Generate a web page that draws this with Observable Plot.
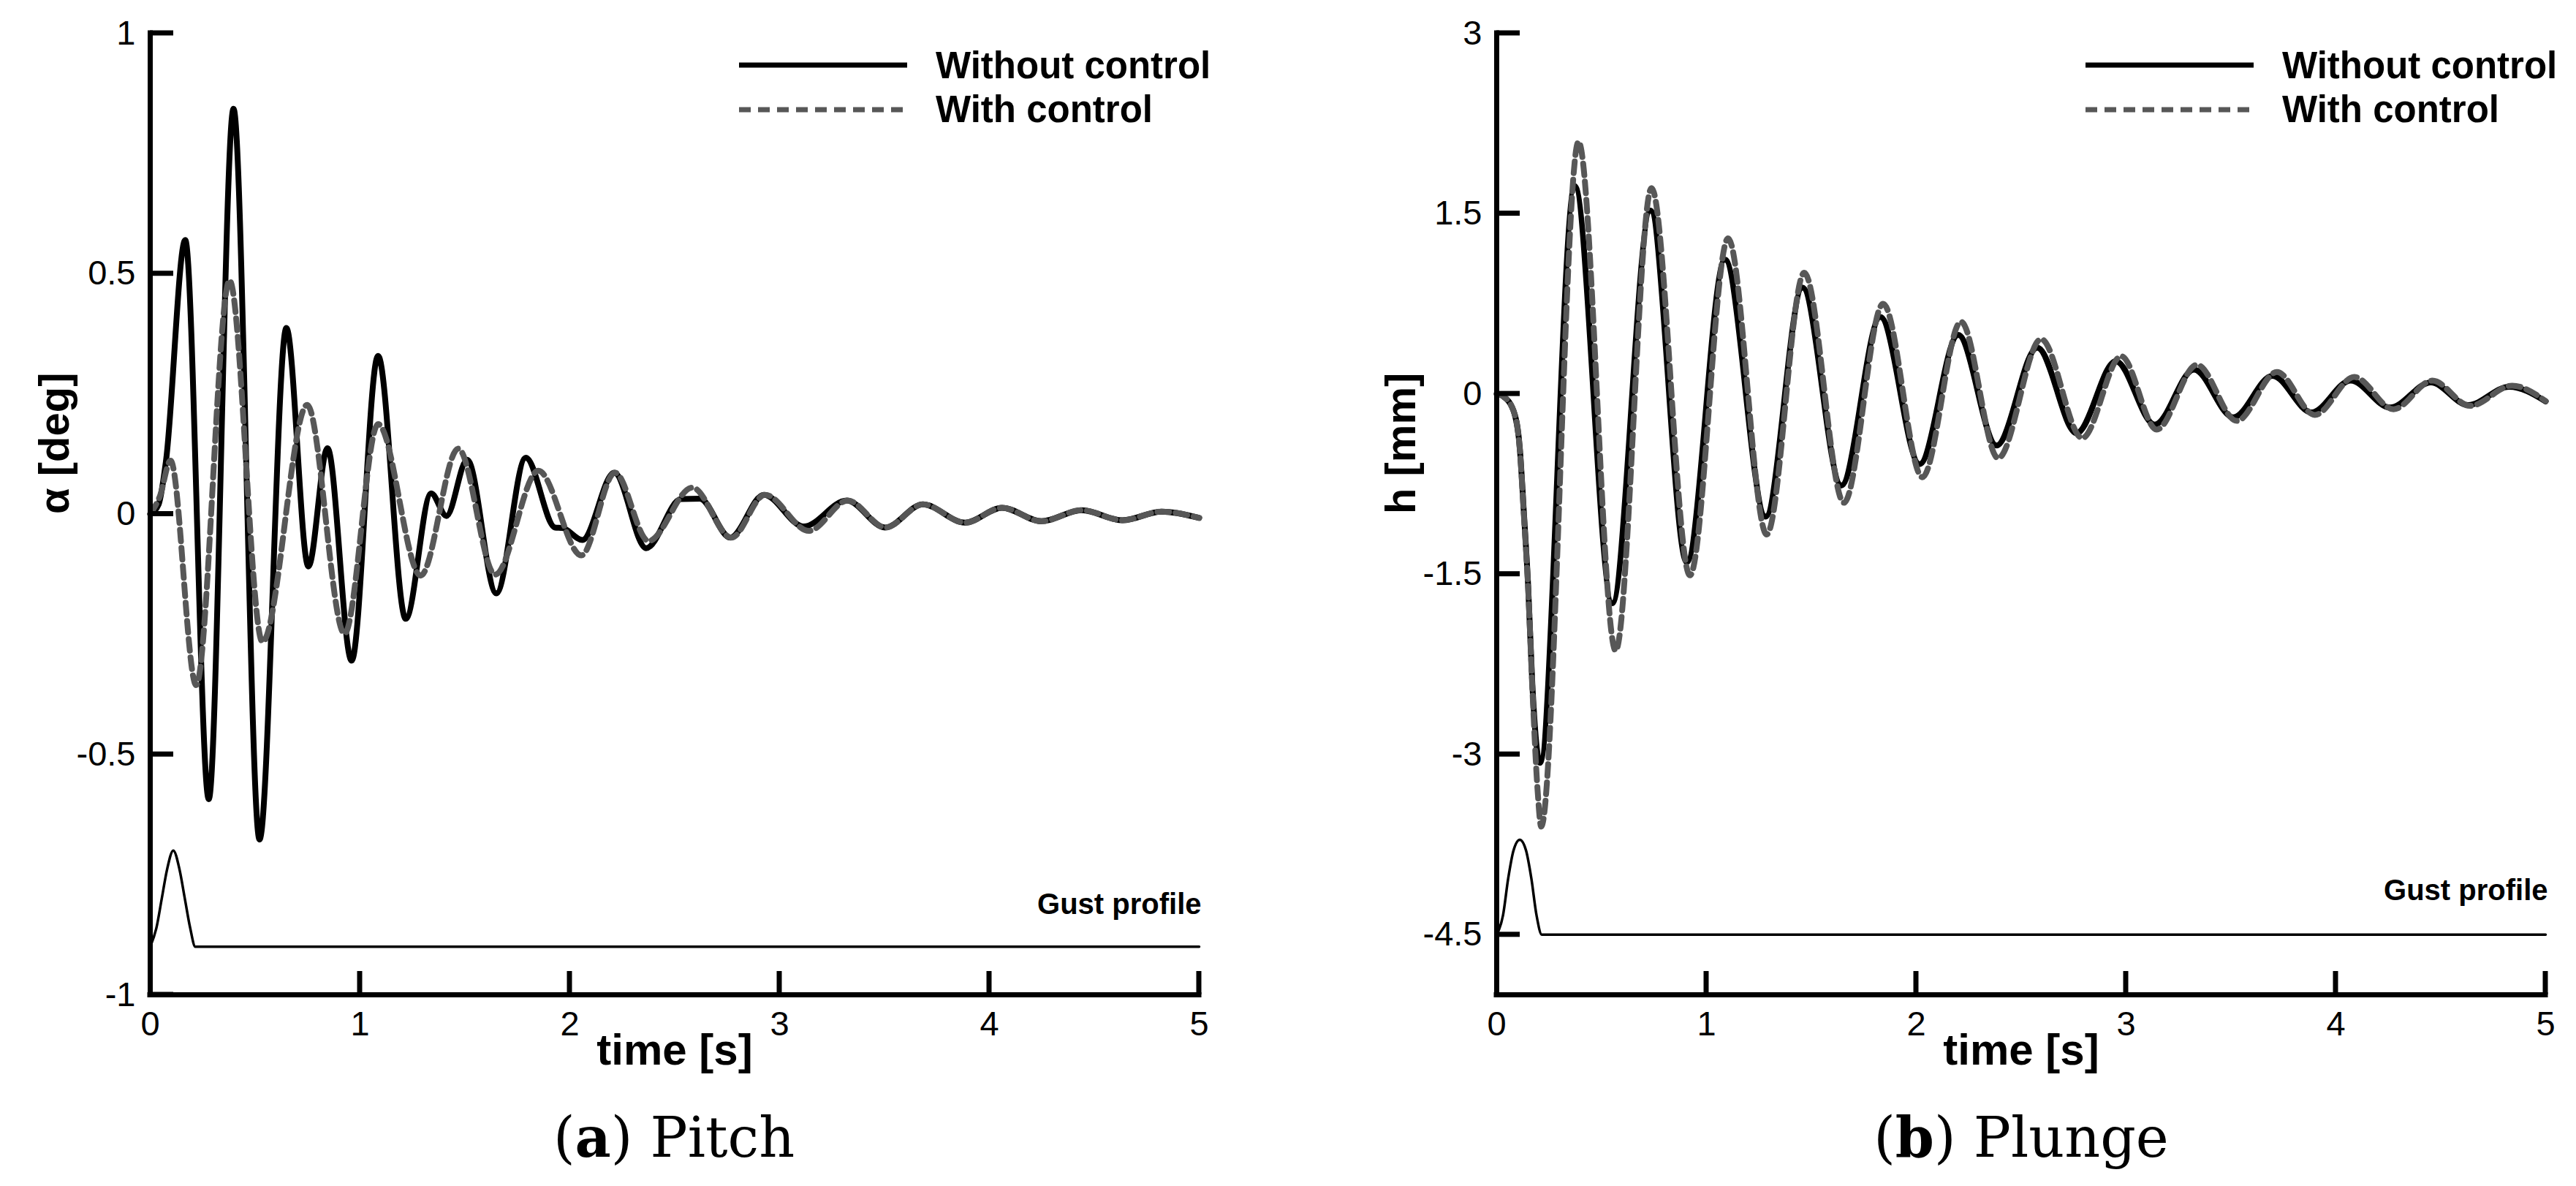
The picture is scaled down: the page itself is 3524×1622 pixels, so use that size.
<!DOCTYPE html>
<html><head><meta charset="utf-8">
<script src="https://cdn.jsdelivr.net/npm/d3@7"></script>
<script src="https://cdn.jsdelivr.net/npm/@observablehq/plot@0.6"></script>
<style>
html,body{margin:0;padding:0;background:#fff;}
#page{position:relative;width:3524px;height:1622px;overflow:hidden;background:#fff;}
.panel{position:absolute;top:0;}
</style></head><body><div id="page"></div>
<script>
// ---------- (a) Pitch ----------
const pitchNoCtrlT = [0,0.04,0.075,0.167,0.279,0.397,0.521,0.649,0.754,0.845,0.960,1.086,1.218,1.339,1.412,1.511,1.650,1.790,1.930,1.965,2.060,2.212,2.364,2.530,2.620,2.765,2.925,3.115,3.320,3.503,3.683,3.884,4.060,4.248,4.440,4.635,4.820,5.0];
const pitchNoCtrlV = [0,0.02,0.11,0.570,-0.593,0.843,-0.677,0.387,-0.109,0.137,-0.305,0.329,-0.218,0.043,-0.004,0.113,-0.165,0.117,-0.028,-0.029,-0.054,0.086,-0.071,0.031,0.032,-0.049,0.040,-0.026,0.028,-0.028,0.020,-0.018,0.013,-0.015,0.008,-0.013,0.005,-0.008];
const pitchCtrlT = [0,0.046,0.097,0.219,0.378,0.535,0.748,0.926,1.086,1.289,1.468,1.644,1.850,2.055,2.215,2.375,2.584,2.770,2.930,3.140,3.325,3.505,3.683,3.884,4.060,4.248,4.440,4.635,4.820,5.0];
const pitchCtrlV = [0,0.037,0.111,-0.356,0.486,-0.266,0.227,-0.249,0.187,-0.128,0.136,-0.126,0.090,-0.086,0.086,-0.056,0.055,-0.049,0.040,-0.035,0.028,-0.028,0.020,-0.018,0.013,-0.015,0.008,-0.013,0.005,-0.008];
const pitchGustT = [0,0.03,0.055,0.08,0.11,0.14,0.165,0.19,0.215,5.0];
const pitchGustV = [-0.9,-0.86,-0.80,-0.74,-0.70,-0.74,-0.80,-0.86,-0.90,-0.90];
const pitchYDomain = [-1, 1];
const pitchYTicks = [1, 0.5, 0, -0.5, -1];
const pitchGustLabelY = [-0.832];

// ---------- (b) Plunge ----------
const plungeNoCtrlT = [0,0.03,0.08,0.11,0.13,0.15,0.17,0.206,0.372,0.551,0.733,0.906,1.088,1.282,1.458,1.643,1.829,2.016,2.200,2.383,2.577,2.764,2.951,3.137,3.324,3.511,3.698,3.884,4.071,4.258,4.453,4.631,4.826,5.0];
const plungeNoCtrlV = [0,-0.02,-0.14,-0.45,-1.0,-1.6,-2.42,-3.07,1.729,-1.742,1.524,-1.40,1.117,-1.021,0.885,-0.762,0.640,-0.585,0.490,-0.430,0.384,-0.327,0.272,-0.256,0.201,-0.195,0.150,-0.154,0.110,-0.114,0.095,-0.093,0.059,-0.063];
const plungeCtrlT = [0,0.03,0.08,0.11,0.13,0.15,0.17,0.195,0.212,0.390,0.567,0.738,0.921,1.103,1.287,1.466,1.655,1.842,2.029,2.213,2.390,2.595,2.791,2.977,3.146,3.338,3.528,3.719,3.900,4.088,4.275,4.460,4.640,4.840,5.0];
const plungeCtrlV = [0,-0.02,-0.14,-0.46,-1.02,-1.62,-2.45,-3.30,-3.60,2.098,-2.137,1.712,-1.51,1.293,-1.17,1.007,-0.906,0.749,-0.694,0.600,-0.535,0.455,-0.368,0.313,-0.297,0.242,-0.225,0.181,-0.175,0.140,-0.128,0.110,-0.100,0.068,-0.060];
const plungeGustT = [0,0.03,0.055,0.08,0.11,0.14,0.165,0.19,0.215,5.0];
const plungeGustV = [-4.5,-4.34,-4.03,-3.80,-3.71,-3.80,-4.03,-4.34,-4.5,-4.5];
const plungeYDomain = [-5, 3];
const plungeYTicks = [3, 1.5, 0, -1.5, -3, -4.5];
const plungeGustLabelY = [-4.21];

const xDomain = [0, 5];
const xTicksInner = [1, 2, 3, 4, 5];
const xTickLabels = [0, 1, 2, 3, 4, 5];
const seriesNames = ["Without control", "With control"];
const captions = [["a", " Pitch"], ["b", " Plunge"]];
const yLabels = ["α [deg]", "h [mm]"];
const xLabel = "time [s]";
const gustLabel = "Gust profile";

const zip = (T, V) => T.map((t, i) => ({t, v: V[i]}));
const FONT = "'Liberation Sans', Arial, Helvetica, sans-serif";
const H = 1500, MT = 45, MB = 140, TICK = 32, LW = 8;

function panel({solid, dashed, gust, yDomain, yTicks, yLabel, gustY, width, marginLeft, marginRight}) {
  return Plot.plot({
    width, height: H,
    marginLeft, marginRight, marginTop: MT, marginBottom: MB,
    x: {domain: xDomain, label: null},
    y: {domain: yDomain, label: null},
    style: {fontFamily: FONT, fontSize: "47px", color: "#000", background: "transparent", overflow: "visible"},
    marks: [
      Plot.line(gust, {x: "t", y: "v", curve: "monotone-x", stroke: "#000", strokeWidth: 3.5}),
      Plot.line(solid, {x: "t", y: "v", curve: "monotone-x", stroke: "#000", strokeWidth: LW}),
      Plot.line(dashed, {x: "t", y: "v", curve: "monotone-x", stroke: "#575757", strokeWidth: LW, strokeDasharray: "16,9"}),
      Plot.ruleX([xDomain[0]], {stroke: "#000", strokeWidth: 7, strokeLinecap: "square"}),
      Plot.ruleY([yDomain[0]], {stroke: "#000", strokeWidth: 7, strokeLinecap: "square"}),
      Plot.axisY(yTicks, {tickSize: 0, tickPadding: 20, tickFormat: d => String(d), label: null, fontSize: 47}),
      Plot.axisX(xTickLabels, {tickSize: 0, tickPadding: 22, tickFormat: d => String(d), label: null, fontSize: 47}),
      Plot.text([yLabel], {text: d => d, frameAnchor: "left", rotate: -90, dx: -130, fontWeight: "bold", fontSize: 58}),
      Plot.text([xLabel], {text: d => d, frameAnchor: "bottom", dy: 95, fontWeight: "bold", fontSize: 60}),
      Plot.text(gustY, {text: () => gustLabel, x: () => xDomain[1], y: d => d, textAnchor: "end", lineAnchor: "bottom", dx: 3, fontWeight: "bold", fontSize: 40})
    ]
  });
}

const page = document.getElementById("page");
const left = panel({
  solid: zip(pitchNoCtrlT, pitchNoCtrlV), dashed: zip(pitchCtrlT, pitchCtrlV), gust: zip(pitchGustT, pitchGustV),
  yDomain: pitchYDomain, yTicks: pitchYTicks, yLabel: yLabels[0], gustY: pitchGustLabelY,
  width: 1780, marginLeft: 205, marginRight: 140
});
left.classList.add("panel"); left.style.left = "0px";
page.appendChild(left);
const right = panel({
  solid: zip(plungeNoCtrlT, plungeNoCtrlV), dashed: zip(plungeCtrlT, plungeCtrlV), gust: zip(plungeGustT, plungeGustV),
  yDomain: plungeYDomain, yTicks: plungeYTicks, yLabel: yLabels[1], gustY: plungeGustLabelY,
  width: 1744, marginLeft: 267, marginRight: 42
});
right.classList.add("panel"); right.style.left = "1780px";
page.appendChild(right);

// Overlay: inward ticks (positioned through each plot's own scales), legends, captions
const ov = d3.select("#page").append("svg")
  .attr("width", 3524).attr("height", 1622)
  .style("position", "absolute").style("left", "0px").style("top", "0px");

const panels = [
  {fig: left, offset: 0, yTicks: pitchYTicks, yDomain: pitchYDomain, legendX: 1011, capX: 922},
  {fig: right, offset: 1780, yTicks: plungeYTicks, yDomain: plungeYDomain, legendX: 2853, capX: 2765}
];

panels.forEach(({fig, offset, yTicks, yDomain, legendX, capX}, k) => {
  const sx = fig.scale("x"), sy = fig.scale("y");
  const x0 = offset + sx.apply(xDomain[0]);
  const yb = sy.apply(yDomain[0]);
  const tg = ov.append("g").attr("stroke", "#000").attr("stroke-width", 7);
  yTicks.forEach(v => {
    const y = sy.apply(v);
    tg.append("line").attr("x1", x0).attr("x2", x0 + TICK).attr("y1", y).attr("y2", y);
  });
  xTicksInner.forEach(v => {
    const x = offset + sx.apply(v);
    tg.append("line").attr("x1", x).attr("x2", x).attr("y1", yb).attr("y2", yb - TICK);
  });

  const g = ov.append("g");
  g.append("line").attr("x1", legendX).attr("x2", legendX + 230).attr("y1", 89).attr("y2", 89)
    .attr("stroke", "#000").attr("stroke-width", 7);
  g.append("line").attr("x1", legendX).attr("x2", legendX + 230).attr("y1", 150).attr("y2", 150)
    .attr("stroke", "#575757").attr("stroke-width", 7).attr("stroke-dasharray", "16,10");
  seriesNames.forEach((s, i) => {
    g.append("text").attr("x", legendX + 269).attr("y", 107 + i * 60)
      .attr("font-family", FONT).attr("font-weight", "bold").attr("font-size", 51)
      .attr("fill", "#000").text(s);
  });
  const c = ov.append("text").attr("x", capX).attr("y", 1582).attr("text-anchor", "middle")
    .attr("font-family", "'DejaVu Serif', 'Liberation Serif', serif").attr("font-size", 76).attr("fill", "#000");
  c.append("tspan").text("(");
  c.append("tspan").attr("font-weight", "bold").text(captions[k][0]);
  c.append("tspan").text(")" + captions[k][1]);
});
</script></body></html>
